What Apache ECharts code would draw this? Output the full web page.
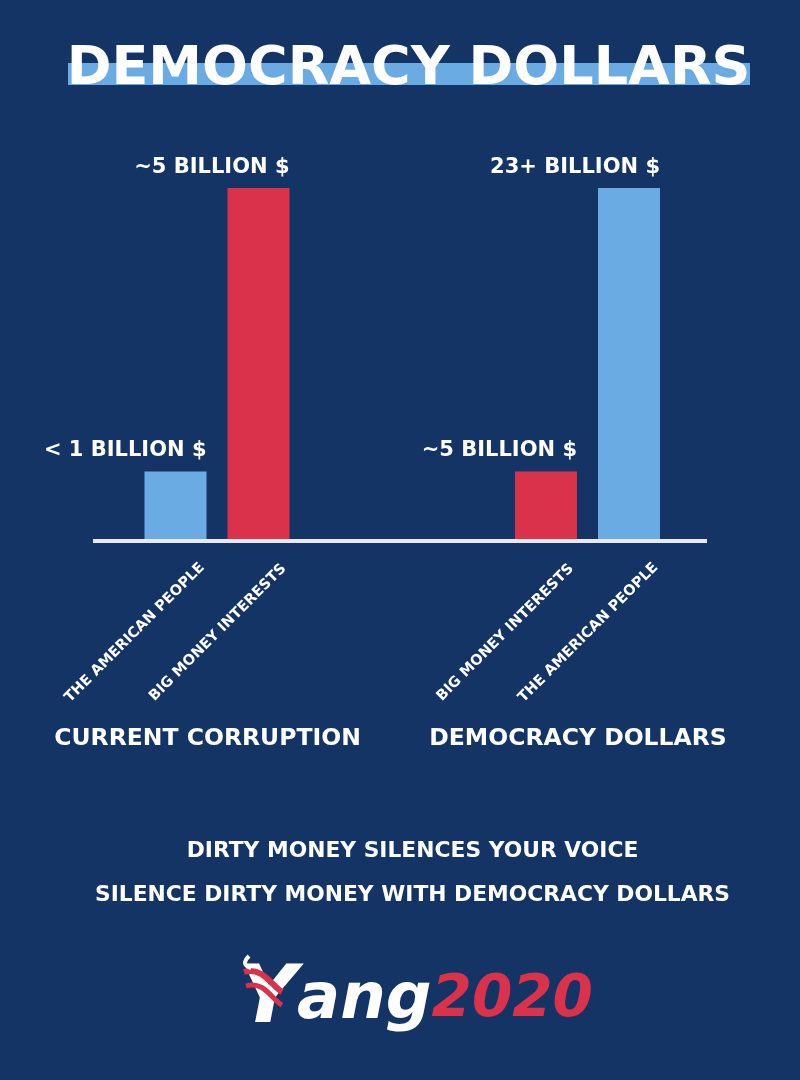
<!DOCTYPE html>
<html lang="en">
<head>
    <meta charset="UTF-8">
    <title>Democracy Dollars</title>
    <script src="https://cdn.jsdelivr.net/npm/echarts@6/dist/echarts.min.js"></script>
    <style>
        html, body { margin: 0; padding: 0; background: #143466; }
        #main { width: 800px; height: 1080px; }
    </style>
</head>
<body>
    <div id="main"></div>
    <script>
        // data (bar heights are the drawn heights, relative units)
        var groupNames = ['CURRENT CORRUPTION', 'DEMOCRACY DOLLARS']
        var corruptionCats = ['THE AMERICAN PEOPLE', 'BIG MONEY INTERESTS']
        var corruptionHeights = [1, 5.2]
        var corruptionLabels = ['< 1 BILLION $', '~5 BILLION $']
        var dollarsCats = ['BIG MONEY INTERESTS', 'THE AMERICAN PEOPLE']
        var dollarsHeights = [1, 5.2]
        var dollarsLabels = ['~5 BILLION $', '23+ BILLION $']
        var footerLines = ['DIRTY MONEY SILENCES YOUR VOICE', 'SILENCE DIRTY MONEY WITH DEMOCRACY DOLLARS']

        var NAVY = '#143466'
        var BLUE = '#6aabe3'
        var RED = '#da324a'
        var FONT = '"DejaVu Sans", sans-serif'

        function colorFor(cat) {
            return cat === 'THE AMERICAN PEOPLE' ? BLUE : RED
        }

        function barSeries(idx, cats, heights, labels) {
            return {
                type: 'bar',
                xAxisIndex: idx,
                yAxisIndex: idx,
                barWidth: 62,
                data: heights.map(function (v, i) {
                    return { value: v, itemStyle: { color: colorFor(cats[i]) } }
                }),
                label: {
                    show: true,
                    position: 'top',
                    align: 'right',
                    offset: [31, 0],
                    distance: 10,
                    color: '#fff',
                    fontFamily: FONT,
                    fontWeight: 'bold',
                    fontSize: 21,
                    formatter: function (p) { return labels[p.dataIndex] }
                }
            }
        }

        function catAxis(idx, cats) {
            return {
                type: 'category',
                gridIndex: idx,
                data: cats,
                axisLine: { show: false },
                axisTick: { show: false },
                axisLabel: {
                    interval: 0,
                    rotate: 45,
                    margin: 53,
                    align: 'center',
                    padding: [0, 115, 0, 0],
                    color: '#fff',
                    fontFamily: FONT,
                    fontWeight: 'bold',
                    fontSize: 14.5
                }
            }
        }

        function valAxis(idx) {
            return { type: 'value', gridIndex: idx, min: 0, max: 5.2, show: false }
        }

        function centerText(x, y, text, font) {
            return {
                type: 'text', x: x, y: y, z: 2,
                style: { text: text, fill: '#fff', font: font, align: 'center', verticalAlign: 'middle' }
            }
        }

        var chart = echarts.init(document.getElementById('main'))
        var option = {
            backgroundColor: NAVY,
            animation: false,
            grid: [
                { left: 134, width: 166, top: 188, height: 351 },
                { left: 504.5, width: 166, top: 188, height: 351 }
            ],
            xAxis: [catAxis(0, corruptionCats), catAxis(1, dollarsCats)],
            yAxis: [valAxis(0), valAxis(1)],
            series: [
                barSeries(0, corruptionCats, corruptionHeights, corruptionLabels),
                barSeries(1, dollarsCats, dollarsHeights, dollarsLabels)
            ],
            graphic: [
                // title with light blue highlight strip
                { type: 'rect', shape: { x: 68, y: 63, width: 682, height: 22 }, style: { fill: BLUE }, z: 1 },
                centerText(408.5, 70, 'DEMOCRACY DOLLARS', 'bold 54px ' + FONT),
                // base line
                { type: 'rect', shape: { x: 93, y: 539, width: 614, height: 4 }, style: { fill: '#e8e9ec' }, z: 5 },
                // group names
                centerText(207.5, 739, groupNames[0], 'bold 23.5px ' + FONT),
                centerText(578, 739, groupNames[1], 'bold 23.5px ' + FONT),
                // footer
                centerText(412.5, 851, footerLines[0], 'bold 21.8px ' + FONT),
                centerText(412.5, 895, footerLines[1], 'bold 21.8px ' + FONT),
                // logo
                {
                    type: 'text', x: 416, y: 1041,
                    style: {
                        text: '{y|Y}{a|ang}{n|2020}',
                        align: 'center', verticalAlign: 'bottom',
                        rich: {
                            y: { fill: '#fff', font: 'italic bold 80px ' + FONT },
                            a: { fill: '#fff', font: 'italic bold 64px ' + FONT },
                            n: { fill: RED, font: 'italic bold 58px ' + FONT }
                        }
                    }
                },
                // flag stripes on the Y
                {
                    type: 'bezierCurve', z: 3,
                    shape: { x1: 244, y1: 972, cpx1: 262, cpy1: 966, cpx2: 272, cpy2: 986, x2: 282, y2: 992 },
                    style: { stroke: RED, lineWidth: 6, fill: null }
                },
                {
                    type: 'bezierCurve', z: 3,
                    shape: { x1: 246, y1: 986, cpx1: 264, cpy1: 980, cpx2: 272, cpy2: 1000, x2: 282, y2: 1005 },
                    style: { stroke: RED, lineWidth: 5, fill: null }
                },
                {
                    type: 'bezierCurve', z: 3,
                    shape: { x1: 249, y1: 956, cpx1: 243, cpy1: 962, cpx2: 244, cpy2: 966, x2: 251, y2: 968 },
                    style: { stroke: '#fff', lineWidth: 4, fill: null }
                }
            ]
        }
        chart.setOption(option)
    </script>
</body>
</html>
